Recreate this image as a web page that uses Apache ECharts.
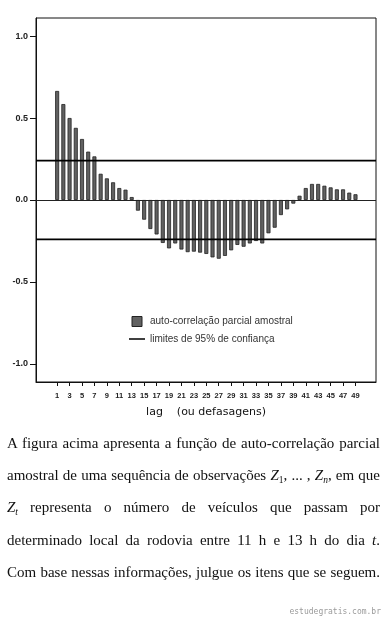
<!DOCTYPE html>
<html>
<head>
<meta charset="utf-8">
<script src="https://cdn.jsdelivr.net/npm/echarts@6/dist/echarts.min.js"></script>
<style>
  html, body { margin: 0; padding: 0; background: #fff; }
  #wrap { position: relative; width: 385px; height: 623px; overflow: hidden; }
  #chart { position: absolute; left: 0; top: 0; width: 385px; height: 623px; }
  .ln { position: absolute; left: 7px; width: 373px; height: 32px; line-height: 32px;
        font-family: "Liberation Serif", "Times New Roman", serif; font-size: 15px; color: #111;
        text-align: justify; text-align-last: justify; white-space: nowrap; }
  .ln sub { font-size: 9.5px; vertical-align: -3px; line-height: 0; }
  #wm { position: absolute; right: 4px; top: 607px; font-family: "DejaVu Sans Mono", monospace;
        font-size: 8px; color: #9a9a9a; }
</style>
</head>
<body>
<div id="wrap">
  <div id="chart"></div>
  <div class="ln" style="top:427px">A figura acima apresenta a função de auto-correlação parcial</div>
  <div class="ln" style="top:459px">amostral de uma sequência de observações <i>Z</i><sub>1</sub>, ... , <i>Z<sub>n</sub></i>, em que</div>
  <div class="ln" style="top:491px"><i>Z<sub>t</sub></i> representa o número de veículos que passam por</div>
  <div class="ln" style="top:524px">determinado local da rodovia entre 11 h e 13 h do dia <i>t</i>.</div>
  <div class="ln" style="top:556px">Com base nessas informações, julgue os itens que se seguem.</div>
  <div id="wm">estudegratis.com.br</div>
</div>
<script>
const lags = [1,2,3,4,5,6,7,8,9,10,11,12,13,14,15,16,17,18,19,20,21,22,23,24,25,26,27,28,29,30,31,32,33,34,35,36,37,38,39,40,41,42,43,44,45,46,47,48,49];
const pacf = [0.665,0.585,0.50,0.44,0.372,0.295,0.266,0.16,0.132,0.108,0.073,0.063,0.018,
  -0.065,-0.12,-0.177,-0.21,-0.262,-0.295,-0.265,-0.302,-0.318,-0.315,-0.321,-0.329,-0.35,-0.358,-0.341,-0.307,-0.274,-0.285,-0.265,-0.25,-0.265,-0.203,-0.169,-0.092,-0.057,-0.022,
  0.026,0.073,0.098,0.098,0.087,0.077,0.065,0.065,0.045,0.035];
const xTickLabels = [1,3,5,7,9,11,13,15,17,19,21,23,25,27,29,31,33,35,37,39,41,43,45,47,49];
const yTickValues = [-1.0,-0.5,0.0,0.5,1.0];
const confLimit = 0.24;
const xRange = [-2.4, 52.3];
const yRange = [-1.11, 1.11];
const barName = 'auto-correlação parcial amostral';
const lineName = 'limites de 95% de confiança';

const chart = echarts.init(document.getElementById('chart'), null, {renderer: 'canvas'});
chart.setOption({
  animation: false,
  backgroundColor: '#fff',
  grid: { left: 36, right: 9, top: 18, bottom: 241, show: true, borderColor: '#111', borderWidth: 1 },
  legend: {
    orient: 'vertical', left: 124, top: 311, itemWidth: 16, itemHeight: 10, itemGap: 7,
    selectedMode: false,
    textStyle: { fontFamily: 'Liberation Sans, Arial, sans-serif', fontSize: 10, color: '#333' },
    data: [
      { name: barName, icon: 'path://M0,0h10v10h-10z', itemStyle: { color: '#616161', borderColor: '#222', borderWidth: 1 } },
      { name: lineName, icon: 'path://M0,0h16v1.5h-16z', itemStyle: { color: '#000', borderWidth: 0 } }
    ]
  },
  xAxis: {
    type: 'value', min: xRange[0], max: xRange[1],
    name: 'lag    (ou defasagens)', nameLocation: 'middle', nameGap: 25,
    nameTextStyle: { fontFamily: 'DejaVu Sans', fontSize: 11, color: '#111', verticalAlign: 'top' },
    axisLine: { show: true, onZero: false, lineStyle: { color: '#111', width: 1 } },
    axisTick: { show: true, customValues: xTickLabels, length: 4, lineStyle: { color: '#111' } },
    axisLabel: { customValues: xTickLabels, fontFamily: 'Liberation Sans, Arial, sans-serif', fontSize: 7.5, fontWeight: 'bold', color: '#222', margin: 10 },
    splitLine: { show: false }
  },
  yAxis: {
    type: 'value', min: yRange[0], max: yRange[1],
    axisLine: { show: true, onZero: false, lineStyle: { color: '#111', width: 1 } },
    axisTick: { show: true, customValues: yTickValues, length: 6, lineStyle: { color: '#111' } },
    axisLabel: { customValues: yTickValues, formatter: v => v.toFixed(1), fontFamily: 'Liberation Sans, Arial, sans-serif', fontSize: 9, fontWeight: 'bold', color: '#222', margin: 8 },
    splitLine: { show: false }
  },
  series: [
    {
      name: barName, type: 'bar', barWidth: 4,
      data: lags.map((l, i) => [l, pacf[i]]),
      itemStyle: { color: '#616161', borderColor: '#222', borderWidth: 0.8 },
      markLine: {
        silent: true, symbol: 'none', label: { show: false },
        lineStyle: { color: '#222', width: 1, type: 'solid' },
        data: [{ yAxis: 0 }]
      }
    },
    {
      name: lineName, type: 'line', symbol: 'none', silent: true,
      color: '#000',
      lineStyle: { color: '#000', width: 1.6 },
      data: [[xRange[0], confLimit], [xRange[1], confLimit]]
    },
    {
      name: lineName, type: 'line', symbol: 'none', silent: true,
      color: '#000',
      lineStyle: { color: '#000', width: 1.6 },
      data: [[xRange[0], -confLimit], [xRange[1], -confLimit]]
    }
  ]
});
</script>
</body>
</html>
